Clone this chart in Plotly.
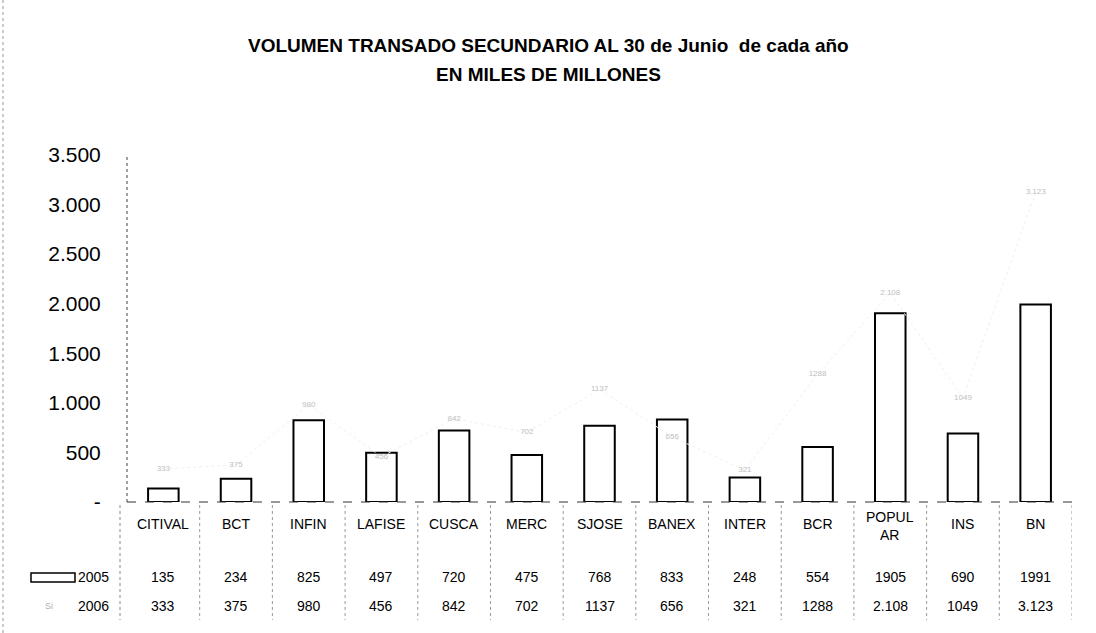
import plotly.graph_objects as go

categories = ["CITIVAL", "BCT", "INFIN", "LAFISE", "CUSCA", "MERC", "SJOSE",
              "BANEX", "INTER", "BCR", "POPULAR", "INS", "BN"]
category_labels = ["CITIVAL", "BCT", "INFIN", "LAFISE", "CUSCA", "MERC", "SJOSE",
                   "BANEX", "INTER", "BCR", "POPUL<br>AR", "INS", "BN"]
values_2005 = [135, 234, 825, 497, 720, 475, 768, 833, 248, 554, 1905, 690, 1991]
values_2006 = [333, 375, 980, 456, 842, 702, 1137, 656, 321, 1288, 2108, 1049, 3123]
labels_2005 = ["135", "234", "825", "497", "720", "475", "768", "833", "248", "554", "1905", "690", "1991"]
labels_2006 = ["333", "375", "980", "456", "842", "702", "1137", "656", "321", "1288", "2.108", "1049", "3.123"]
y_ticks = [0, 500, 1000, 1500, 2000, 2500, 3000, 3500]
y_tick_labels = ["-", "500", "1.000", "1.500", "2.000", "2.500", "3.000", "3.500"]
series_names = ["2005", "2006"]

W, H = 1096, 633
ML, MR, MT, MB = 127, 24, 155, 131
PW, PH = W - ML - MR, H - MT - MB
FONT = "Liberation Sans, Arial, sans-serif"


def py(ypx):
    return 1 - (ypx - MT) / PH


def px(xpx):
    return (xpx - ML) / PW


fig = go.Figure()
fig.add_trace(go.Bar(
    x=categories, y=values_2005, name=series_names[0], width=0.42,
    marker=dict(color="white", line=dict(color="black", width=2)),
))
fig.add_trace(go.Scatter(
    x=categories, y=values_2006, name=series_names[1], mode="lines+text",
    text=labels_2006, textposition="middle center",
    textfont=dict(size=8, color="#c0c0c0", family=FONT),
    line=dict(color="#f0f0f0", width=1, dash="dot"),
))

annotations = [
    dict(text="<b>VOLUMEN TRANSADO SECUNDARIO AL 30 de Junio  de cada año</b>",
         x=px(548), xref="paper", y=py(45), yref="paper", showarrow=False,
         font=dict(size=19, family=FONT, color="black"), xanchor="center", yanchor="middle"),
    dict(text="<b>EN MILES DE MILLONES</b>",
         x=px(548), xref="paper", y=py(75), yref="paper", showarrow=False,
         font=dict(size=19, family=FONT, color="black"), xanchor="center", yanchor="middle"),
]
for c, lab, v5, v6 in zip(categories, category_labels, labels_2005, labels_2006):
    annotations.append(dict(text=lab, x=c, xref="x", y=py(526 if "<br>" in lab else 524), yref="paper",
                            showarrow=False, font=dict(size=14, family=FONT, color="black"),
                            xanchor="center", yanchor="middle"))
    annotations.append(dict(text=v5, x=c, xref="x", y=py(577), yref="paper", showarrow=False,
                            font=dict(size=14, family=FONT, color="black"),
                            xanchor="center", yanchor="middle"))
    annotations.append(dict(text=v6, x=c, xref="x", y=py(606), yref="paper", showarrow=False,
                            font=dict(size=14, family=FONT, color="black"),
                            xanchor="center", yanchor="middle"))
annotations.append(dict(text=series_names[0], x=px(111), xref="paper", y=py(577), yref="paper",
                        showarrow=False, font=dict(size=14, family=FONT, color="black"),
                        xanchor="right", yanchor="middle"))
annotations.append(dict(text=series_names[1], x=px(111), xref="paper", y=py(606), yref="paper",
                        showarrow=False, font=dict(size=14, family=FONT, color="black"),
                        xanchor="right", yanchor="middle"))
annotations.append(dict(text="Si", x=px(49), xref="paper", y=py(606), yref="paper",
                        showarrow=False, font=dict(size=9, family=FONT, color="#b0b0b0"),
                        xanchor="center", yanchor="middle"))

shapes = [
    dict(type="line", xref="paper", yref="paper", x0=0, x1=0, y0=0, y1=1,
         line=dict(color="#444", width=1, dash="dot")),
    dict(type="line", xref="paper", yref="paper", x0=0, x1=1, y0=0, y1=0,
         line=dict(color="#333", width=1, dash="dash")),
    dict(type="rect", xref="paper", yref="paper", x0=px(31), x1=px(75), y0=py(582), y1=py(573),
         line=dict(color="black", width=1.5), fillcolor="white"),
    dict(type="line", xref="paper", yref="paper", x0=px(3), x1=px(3), y0=py(0), y1=py(633),
         line=dict(color="#999", width=1, dash="dot")),
    dict(type="line", xref="paper", yref="paper", x0=px(120), x1=px(120), y0=py(505), y1=py(620),
         line=dict(color="#888", width=1, dash="dot")),
]
for i in range(len(categories)):
    shapes.append(dict(type="line", xref="x", yref="paper", x0=i + 0.5, x1=i + 0.5,
                       y0=py(505), y1=py(620), line=dict(color="#999", width=1, dash="dot")))

fig.update_layout(
    width=W, height=H,
    margin=dict(l=ML, r=MR, t=MT, b=MB),
    paper_bgcolor="white", plot_bgcolor="white",
    showlegend=False,
    annotations=annotations,
    shapes=shapes,
    font=dict(family=FONT, color="black"),
)
fig.update_xaxes(range=[-0.5, len(categories) - 0.5], showticklabels=False, showgrid=False,
                 zeroline=False, showline=False, ticks="")
fig.update_yaxes(range=[0, 3500], tickvals=y_ticks, ticktext=y_tick_labels, showgrid=False,
                 zeroline=False, showline=False, ticks="outside", ticklen=21,
                 tickcolor="rgba(0,0,0,0)", tickfont=dict(size=21, family=FONT, color="black"))

fig.write_html("out.html")
